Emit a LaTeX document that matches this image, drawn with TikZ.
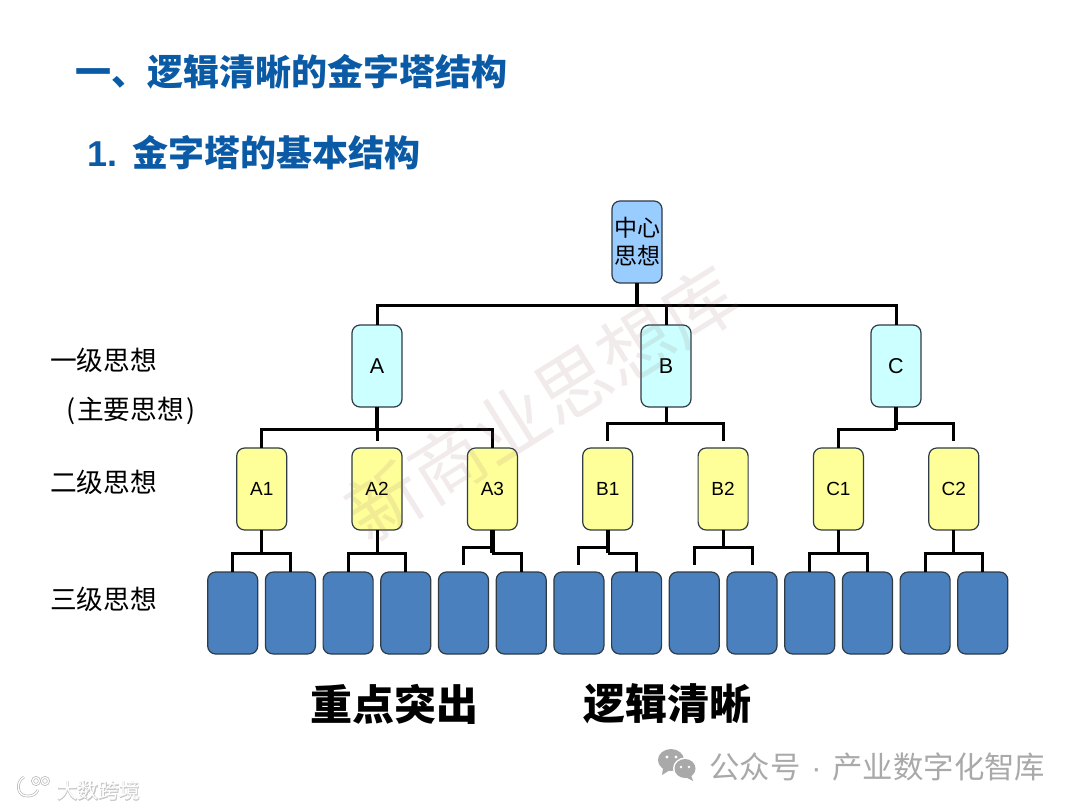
\documentclass[tikz,border=0pt]{standalone}
\usepackage{fontspec}
\setmainfont{Noto Sans CJK SC}
\newfontfamily\labelfont{Liberation Sans}
\newfontfamily\haloface[FakeBold=3]{Noto Sans CJK SC}
\usepackage{tikz}
\usetikzlibrary{positioning}
\definecolor{titleblue}{HTML}{0B5AA6}
\definecolor{rootblue}{HTML}{99CCFF}
\definecolor{onecyan}{HTML}{CCFFFF}
\definecolor{twoyellow}{HTML}{FFFF99}
\definecolor{threeblue}{HTML}{4A80BD}
\definecolor{boxedge}{HTML}{2F3B45}
\definecolor{markgray}{HTML}{A9A9A9}
\tikzset{
    pyrbase/.style={draw=boxedge, line width=1.2pt, rounded corners=8pt, minimum width=50pt, minimum height=82pt, inner sep=0pt, outer sep=0pt, align=center},
    pyrroot/.style={pyrbase, fill=rootblue, font=\fontsize{23}{28}\selectfont},
    pyrone/.style={pyrbase, fill=onecyan, font=\labelfont\fontsize{21.5}{24}\selectfont},
    pyrtwo/.style={pyrbase, fill=twoyellow, font=\labelfont\fontsize{19}{22}\selectfont},
    pyrthree/.style={pyrbase, fill=threeblue},
    pyrbus/.style={line width=3pt},
    pyrtrunk/.style={line width=4.2pt},
    pyrtitle/.style={anchor=west, inner sep=0pt, text=titleblue, font=\fontsize{36}{40}\selectfont\bfseries},
    pyrlevel/.style={anchor=west, inner sep=0pt, font=\fontsize{26.7}{30}\selectfont},
    pyrmotto/.style={anchor=west, inner sep=0pt, font=\fontsize{42}{46}\selectfont\bfseries},
    pyrwater/.style={inner sep=0pt, rotate=32, text=gray!85!red, text opacity=0.13, font=\fontsize{74}{78}\selectfont},
    pyrsign/.style={anchor=west, inner sep=0pt, text=markgray, font=\fontsize{30.4}{32}\selectfont},
    pyrhalo/.style={anchor=west, inner sep=0pt, text=gray!45, font=\haloface\fontsize{20.7}{24}\selectfont},
    pyrhalotop/.style={anchor=west, inner sep=0pt, text=white, font=\fontsize{20.7}{24}\selectfont},
    pyrlogo/.style={draw=gray!55, line width=.7pt, double=white, double distance=1.3pt}
}

\begin{document}
\begin{tikzpicture}[x=1pt, y=1pt]
        \useasboundingbox[fill=white] (0,0) rectangle (1080,-810);

        \node[pyrtitle] (title) at (75,-72) {一、逻辑清晰的金字塔结构};
        \node[pyrtitle] (subtitle) at (87,-153) {{\labelfont 1.}\hspace{15pt}金字塔的基本结构};

        \node[pyrlevel] (level1) at (50,-360) {一级思想};
        \node[pyrlevel] (level1b) at (66,-411) {(\hspace{2pt}主要思想\hspace{2pt})};
        \node[pyrlevel] (level2) at (50,-482) {二级思想};
        \node[pyrlevel] (level3) at (50,-599) {三级思想};

        \node[pyrroot] (root) at (637,-242) {中心\\思想};
        \node[pyrone] (A) at (377,-366) {A};
        \node[pyrone, right=239pt of A] (B) {B};
        \node[pyrone, right=180pt of B] (C) {C};

        \node[pyrtwo, below=41pt of A] (A2) {A2};
        \node[pyrtwo, left=65.3pt of A2] (A1) {A1};
        \node[pyrtwo, right=65.4pt of A2] (A3) {A3};
        \node[pyrtwo, right=65.3pt of A3] (B1) {B1};
        \node[pyrtwo, right=65.4pt of B1] (B2) {B2};
        \node[pyrtwo, right=65.3pt of B2] (C1) {C1};
        \node[pyrtwo, right=65.4pt of C1] (C2) {C2};

        \node[pyrthree, below=42pt of A1, xshift=-29pt] (t1) {};
        \node[pyrthree, right=7.7pt of t1] (t2) {};
        \node[pyrthree, right=7.7pt of t2] (t3) {};
        \node[pyrthree, right=7.7pt of t3] (t4) {};
        \node[pyrthree, right=7.7pt of t4] (t5) {};
        \node[pyrthree, right=7.7pt of t5] (t6) {};
        \node[pyrthree, right=7.7pt of t6] (t7) {};
        \node[pyrthree, right=7.7pt of t7] (t8) {};
        \node[pyrthree, right=7.7pt of t8] (t9) {};
        \node[pyrthree, right=7.7pt of t9] (t10) {};
        \node[pyrthree, right=7.7pt of t10] (t11) {};
        \node[pyrthree, right=7.7pt of t11] (t12) {};
        \node[pyrthree, right=7.7pt of t12] (t13) {};
        \node[pyrthree, right=7.7pt of t13] (t14) {};

        % bus heights and the stubs that stop short
        \coordinate[below=23pt of root] (rootbus);
        \coordinate[below=23pt of A] (Abus);
        \coordinate[below=17pt of B] (Bbus);
        \coordinate[below=23pt of C] (Cbusl);
        \coordinate[below=17pt of C] (Cbusr);
        \coordinate[above=7pt of A2] (A2gap);
        \coordinate[above=7pt of B1] (B1gap);
        \coordinate[above=7pt of B2] (B2gap);
        \coordinate[above=7pt of C2] (C2gap);
        \coordinate[below=23pt of A1] (A1bus);
        \coordinate[below=23pt of A2] (A2bus);
        \coordinate[below=17pt of A3] (A3busl);
        \coordinate[below=23pt of A3] (A3busr);
        \coordinate[below=17pt of B1] (B1busl);
        \coordinate[below=23pt of B1] (B1busr);
        \coordinate[below=17pt of B2] (B2bus);
        \coordinate[below=23pt of C1] (C1bus);
        \coordinate[below=23pt of C2] (C2bus);
        \coordinate[above=7pt of t5] (t5gap);
        \coordinate[above=7pt of t7] (t7gap);
        \coordinate[above=7pt of t9] (t9gap);
        \coordinate[above=7pt of t10] (t10gap);

        \draw[pyrtrunk] (root) -- (rootbus);
        \draw[pyrbus] (rootbus) -| (A.north);
        \draw[pyrbus] (rootbus) -| (C.north);
        \draw[pyrbus] (rootbus -| B) -- (B);

        \draw[pyrtrunk] (A) -- (Abus);
        \draw[pyrbus] (Abus) -| (A1.north);
        \draw[pyrbus] (Abus) -| (A3.north);
        \draw[pyrbus] (Abus) -- (A2gap);

        \draw[pyrbus] (B) -- (Bbus);
        \draw[pyrbus] (Bbus) -| (B1gap);
        \draw[pyrbus] (Bbus) -| (B2gap);

        \draw[pyrtrunk] (C) -- (Cbusl);
        \draw[pyrbus] (Cbusl) -| (C1.north);
        \draw[pyrbus] (Cbusr) -| (C2gap);

        \draw[pyrbus] (A1) -- (A1bus);
        \draw[pyrbus] (A1bus) -| (t1.north);
        \draw[pyrbus] (A1bus) -| (t2.north);
        \draw[pyrbus] (A2) -- (A2bus);
        \draw[pyrbus] (A2bus) -| (t3.north);
        \draw[pyrbus] (A2bus) -| (t4.north);
        \draw[pyrtrunk] (A3) -- (A3busr);
        \draw[pyrbus] (A3busl) -| (t5gap);
        \draw[pyrbus] (A3busr) -| (t6.north);
        \draw[pyrtrunk] (B1) -- (B1busr);
        \draw[pyrbus] (B1busl) -| (t7gap);
        \draw[pyrbus] (B1busr) -| (t8.north);
        \draw[pyrbus] (B2) -- (B2bus);
        \draw[pyrbus] (B2bus) -| (t9gap);
        \draw[pyrbus] (B2bus) -| (t10gap);
        \draw[pyrbus] (C1) -- (C1bus);
        \draw[pyrbus] (C1bus) -| (t11.north);
        \draw[pyrbus] (C1bus) -| (t12.north);
        \draw[pyrbus] (C2) -- (C2bus);
        \draw[pyrbus] (C2bus) -| (t13.north);
        \draw[pyrbus] (C2bus) -| (t14.north);

        \node[pyrmotto] (motto1) at (310,-704) {重点突出};
        \node[pyrmotto] (motto2) at (583,-704) {逻辑清晰};

        \node[pyrwater] (water) at (542,-404) {新商业思想库};

        % wechat mark
        \fill[markgray] (671,-760) ellipse (13 and 11);
        \fill[markgray] (663,-768) -- (662,-775) -- (670,-770) -- cycle;
        \fill[white] (685,-768.5) ellipse (12 and 11);
        \fill[markgray] (685,-768.5) ellipse (10.5 and 9.5);
        \fill[markgray] (691,-775) -- (693,-781) -- (685,-777) -- cycle;
        \fill[white] (667,-757) circle (1.6) (676,-757) circle (1.6);
        \fill[white] (681,-767) circle (1.4) (689,-767) circle (1.4);
        \node[pyrsign] (sign) at (709,-767) {公众号\hspace{11pt}{\labelfont ·}\hspace{11pt}产业数字化智库};

        % corner logo
        \draw[pyrlogo] (13,-776) -- (13,-794);
        \draw[pyrlogo] (24,-777) .. controls (15,-782) and (17,-797) .. (28,-796) .. controls (33,-796) and (36,-794) .. (38,-790);
        \draw[pyrlogo] (28,-777) -- (28,-786);
        \draw[pyrlogo] (36,-781) circle (3.5);
        \draw[pyrlogo] (45,-781) circle (3.5);
        \node[pyrhalo] (logoback) at (57,-791) {大数跨境};
        \node[pyrhalotop] (logotext) at (57,-791) {大数跨境};
    \end{tikzpicture}
\end{document}
